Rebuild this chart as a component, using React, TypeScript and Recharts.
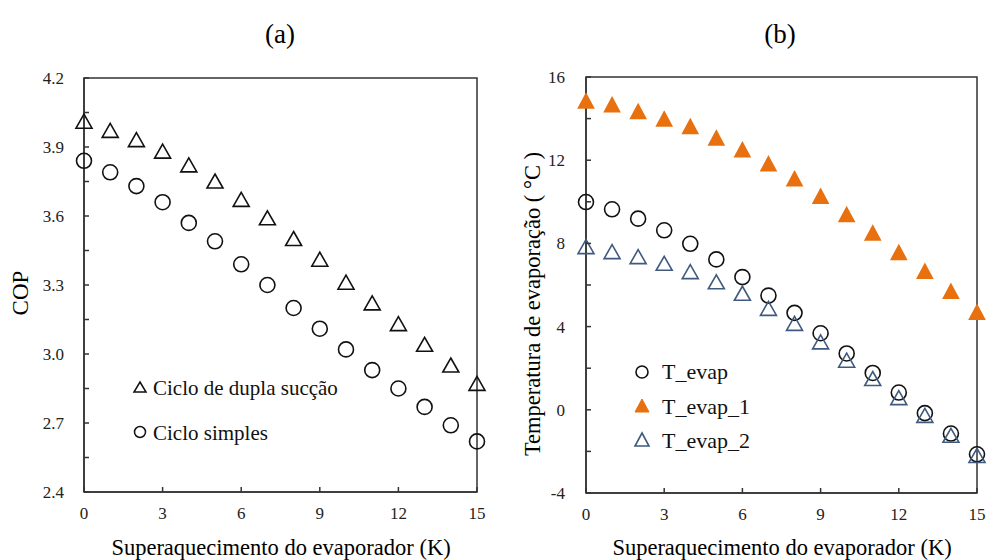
import React from "react";
import {
  ScatterChart,
  Scatter,
  XAxis,
  YAxis,
  ReferenceArea,
} from "recharts";

// ---- data ----
const superheat = [0, 1, 2, 3, 4, 5, 6, 7, 8, 9, 10, 11, 12, 13, 14, 15];
const copDupla = [4.01, 3.97, 3.93, 3.88, 3.82, 3.75, 3.67, 3.59, 3.5, 3.41, 3.31, 3.22, 3.13, 3.04, 2.95, 2.87];
const copSimples = [3.84, 3.79, 3.73, 3.66, 3.57, 3.49, 3.39, 3.3, 3.2, 3.11, 3.02, 2.93, 2.85, 2.77, 2.69, 2.62];
const tEvap = [9.99, 9.64, 9.19, 8.63, 7.98, 7.23, 6.38, 5.49, 4.66, 3.68, 2.71, 1.77, 0.83, -0.16, -1.14, -2.14];
const tEvap1 = [14.8, 14.62, 14.3, 13.94, 13.58, 13.02, 12.46, 11.78, 11.06, 10.22, 9.34, 8.46, 7.52, 6.62, 5.65, 4.65];
const tEvap2 = [7.82, 7.58, 7.34, 7.02, 6.62, 6.13, 5.58, 4.85, 4.13, 3.24, 2.36, 1.48, 0.56, -0.29, -1.25, -2.22];

const xTicks = [0, 3, 6, 9, 12, 15];
const copTicks = [2.4, 2.55, 2.7, 2.85, 3.0, 3.15, 3.3, 3.45, 3.6, 3.75, 3.9, 4.05, 4.2];
const copLabels = [2.4, 2.7, 3.0, 3.3, 3.6, 3.9, 4.2];
const tTicks = [-4, -2, 0, 2, 4, 6, 8, 10, 12, 14, 16];
const tLabels = [-4, 0, 4, 8, 12, 16];

const nameDupla = "Ciclo de dupla sucção";
const nameSimples = "Ciclo simples";
const nameT = "T_evap";
const nameT1 = "T_evap_1";
const nameT2 = "T_evap_2";

const dataDupla = superheat.map((x, i) => ({ x, y: copDupla[i] }));
const dataSimples = superheat.map((x, i) => ({ x, y: copSimples[i] }));
const dataT = superheat.map((x, i) => ({ x, y: tEvap[i] }));
const dataT1 = superheat.map((x, i) => ({ x, y: tEvap1[i] }));
const dataT2 = superheat.map((x, i) => ({ x, y: tEvap2[i] }));

// ---- styles ----
const FONT = "'Liberation Serif', 'Times New Roman', serif";
const AXIS = "#333";
const ORANGE = "#E8700F";
const BLUE = "#3F5A7E";
const TXT = { fontFamily: FONT };

const Circle = (props: any) => {
  const { cx, cy } = props;
  return <circle cx={cx} cy={cy} r={7.5} fill="none" stroke="#111" strokeWidth={1.6} />;
};

const makeTriangle = (stroke: string, fill: string, w = 8, up = 7.5, down = 6.5) => (props: any) => {
  const { cx, cy } = props;
  const pts = `${cx},${cy - up} ${cx + w},${cy + down} ${cx - w},${cy + down}`;
  return <polygon points={pts} fill={fill} stroke={stroke} strokeWidth={1.6} strokeLinejoin="miter" />;
};

const XTick = (props: any) => {
  const { x, y, payload } = props;
  return (
    <g>
      <line x1={x} y1={y} x2={x} y2={y - 5} stroke={AXIS} strokeWidth={1.5} />
      <text x={x} y={y + 27} textAnchor="middle" style={TXT} fontSize={17} fill="#222">
        {payload.value}
      </text>
    </g>
  );
};

const makeYTick = (labels: number[], fmt: (v: number) => string, gap: number) => (props: any) => {
  const { x, y, payload } = props;
  const v = payload.value as number;
  const show = labels.some((l) => Math.abs(l - v) < 1e-6);
  return (
    <g>
      <line x1={x} y1={y} x2={x + 5} y2={y} stroke={AXIS} strokeWidth={1.5} />
      {show && (
        <text x={x - gap} y={y + 6} textAnchor="end" style={TXT} fontSize={17} fill="#222">
          {fmt(v)}
        </text>
      )}
    </g>
  );
};

const LegendLeft = () => (
  <svg width={240} height={70} style={{ overflow: "visible", display: "block" }}>
    <polygon points="12,3 18,13 6,13" fill="none" stroke="#111" strokeWidth={1.5} />
    <text x={25} y={16} style={TXT} fontSize={21} fill="#111">{nameDupla}</text>
    <circle cx={12} cy={53} r={5.5} fill="none" stroke="#111" strokeWidth={1.5} />
    <text x={25} y={61} style={TXT} fontSize={21} fill="#111">{nameSimples}</text>
  </svg>
);

const LegendRight = () => (
  <svg width={140} height={100} style={{ overflow: "visible", display: "block" }}>
    <circle cx={10} cy={10} r={6} fill="none" stroke="#111" strokeWidth={1.6} />
    <text x={30} y={17} style={TXT} fontSize={22} fill="#111">{nameT}</text>
    <polygon points="10,37 17,50 3,50" fill={ORANGE} stroke={ORANGE} strokeWidth={1} />
    <text x={30} y={52} style={TXT} fontSize={22} fill="#111">{nameT1}</text>
    <polygon points="10,71 17,84 3,84" fill="none" stroke={BLUE} strokeWidth={1.6} />
    <text x={30} y={86} style={TXT} fontSize={22} fill="#111">{nameT2}</text>
  </svg>
);

export default function App() {
  return (
    <div style={{ position: "absolute", left: 0, top: 0, width: 988, height: 560, background: "#fff", fontFamily: FONT }}>
      <div style={{ position: "absolute", left: 280, top: 34, transform: "translate(-50%, -50%)", fontSize: 27, fontFamily: FONT, whiteSpace: "nowrap" }}>(a)</div>
      <div style={{ position: "absolute", left: 780, top: 34, transform: "translate(-50%, -50%)", fontSize: 27, fontFamily: FONT, whiteSpace: "nowrap" }}>(b)</div>

      {/* Left panel */}
      <div style={{ position: "absolute", left: 0, top: 0 }}>
        <ScatterChart width={494} height={560} margin={{ top: 78, right: 17, bottom: 38, left: 54 }}>
          <XAxis
            type="number"
            dataKey="x"
            domain={[0, 15]}
            ticks={xTicks}
            interval={0}
            height={30}
            tickSize={0}
            tickMargin={0}
            tickLine={false}
            axisLine={{ stroke: AXIS, strokeWidth: 1.5 }}
            tick={<XTick />}
          />
          <YAxis
            type="number"
            dataKey="y"
            domain={[2.4, 4.2]}
            ticks={copTicks}
            interval={0}
            width={30}
            tickSize={0}
            tickMargin={0}
            tickLine={false}
            axisLine={{ stroke: AXIS, strokeWidth: 1.5 }}
            tick={makeYTick(copLabels, (v) => v.toFixed(1), 20)}
          />
          <ReferenceArea x1={0} x2={15} y1={2.4} y2={4.2} fill="none" stroke={AXIS} strokeWidth={1.5} ifOverflow="visible" />
          <Scatter name={nameDupla} data={dataDupla} shape={makeTriangle("#111", "none")} isAnimationActive={false} />
          <Scatter name={nameSimples} data={dataSimples} shape={<Circle />} isAnimationActive={false} />
        </ScatterChart>
      </div>
      <div style={{ position: "absolute", left: 128, top: 379 }}>
        <LegendLeft />
      </div>
      <div style={{ position: "absolute", left: 21, top: 293, transform: "translate(-50%, -50%) rotate(-90deg)", fontSize: 23, fontFamily: FONT, whiteSpace: "nowrap" }}>
        COP
      </div>
      <div style={{ position: "absolute", left: 281, top: 548, transform: "translate(-50%, -50%)", fontSize: 22.5, fontFamily: FONT, whiteSpace: "nowrap" }}>
        Superaquecimento do evaporador (K)
      </div>

      {/* Right panel */}
      <div style={{ position: "absolute", left: 494, top: 0 }}>
        <ScatterChart width={494} height={560} margin={{ top: 77, right: 11, bottom: 37, left: 62 }}>
          <XAxis
            type="number"
            dataKey="x"
            domain={[0, 15]}
            ticks={xTicks}
            interval={0}
            height={30}
            tickSize={0}
            tickMargin={0}
            tickLine={false}
            axisLine={{ stroke: AXIS, strokeWidth: 1.5 }}
            tick={<XTick />}
          />
          <YAxis
            type="number"
            dataKey="y"
            domain={[-4, 16]}
            ticks={tTicks}
            interval={0}
            width={30}
            tickSize={0}
            tickMargin={0}
            tickLine={false}
            axisLine={{ stroke: AXIS, strokeWidth: 1.5 }}
            tick={makeYTick(tLabels, (v) => String(v), 21)}
          />
          <ReferenceArea x1={0} x2={15} y1={-4} y2={16} fill="none" stroke={AXIS} strokeWidth={1.5} ifOverflow="visible" />
          <Scatter name={nameT1} data={dataT1} shape={makeTriangle(ORANGE, ORANGE, 7.5, 8, 6)} isAnimationActive={false} />
          <Scatter name={nameT} data={dataT} shape={<Circle />} isAnimationActive={false} />
          <Scatter name={nameT2} data={dataT2} shape={makeTriangle(BLUE, "none")} isAnimationActive={false} />
        </ScatterChart>
      </div>
      <div style={{ position: "absolute", left: 632, top: 362 }}>
        <LegendRight />
      </div>
      <div style={{ position: "absolute", left: 533, top: 304, transform: "translate(-50%, -50%) rotate(-90deg)", fontSize: 22.5, fontFamily: FONT, whiteSpace: "nowrap" }}>
        Temperatura de evaporação ( °C )
      </div>
      <div style={{ position: "absolute", left: 782, top: 548, transform: "translate(-50%, -50%)", fontSize: 22.5, fontFamily: FONT, whiteSpace: "nowrap" }}>
        Superaquecimento do evaporador (K)
      </div>
    </div>
  );
}
